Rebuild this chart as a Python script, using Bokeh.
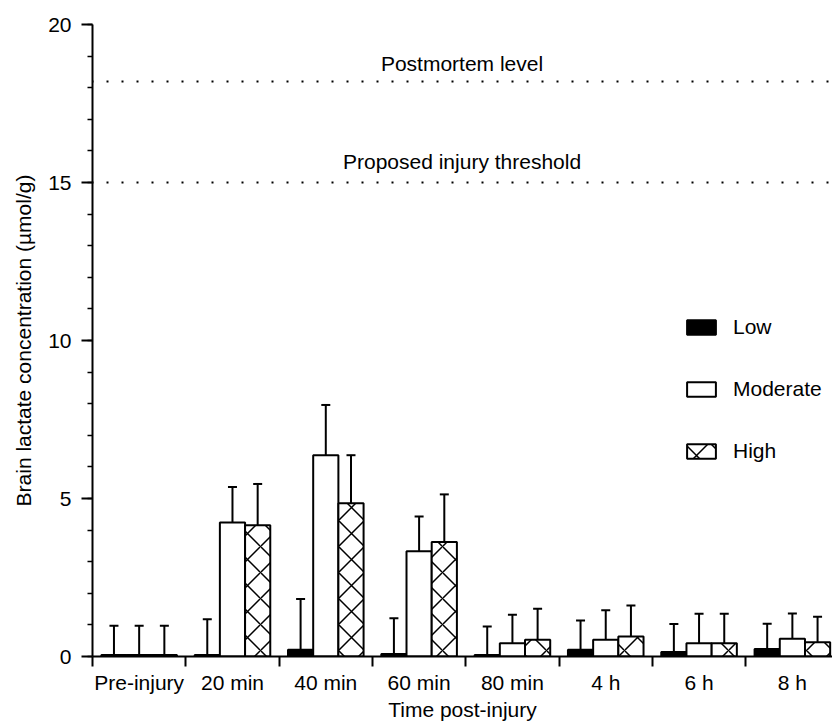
import numpy as np
from bokeh.plotting import figure
from bokeh.models import (ColumnDataSource, Range1d, FixedTicker, SingleIntervalTicker,
                          Whisker, TeeHead, Span, Label, Legend, LegendItem)
from bokeh.transform import dodge
from bokeh.embed import file_html
from bokeh.resources import INLINE

# ---------------- data ----------------
categories = ["Pre-injury", "20 min", "40 min", "60 min", "80 min", "4 h", "6 h", "8 h"]
low = [0.05, 0.05, 0.21, 0.08, 0.05, 0.21, 0.14, 0.24]
low_err = [0.92, 1.13, 1.61, 1.13, 0.90, 0.93, 0.89, 0.80]
moderate = [0.05, 4.24, 6.37, 3.33, 0.42, 0.53, 0.42, 0.56]
moderate_err = [0.92, 1.12, 1.59, 1.10, 0.90, 0.93, 0.93, 0.80]
high = [0.05, 4.15, 4.85, 3.62, 0.53, 0.63, 0.42, 0.45]
high_err = [0.92, 1.31, 1.52, 1.51, 0.98, 0.98, 0.93, 0.81]
series_names = ["Low", "Moderate", "High"]
reference_levels = [18.2, 15.0]
reference_labels = ["Postmortem level", "Proposed injury threshold"]
y_ticks_major = 5

FONT = "Liberation Sans"
FS = "21px"

x_centers = np.arange(len(categories)) + 0.5
src = ColumnDataSource(dict(
    x=x_centers,
    low=low, low_top=np.array(low) + np.array(low_err),
    moderate=moderate, moderate_top=np.array(moderate) + np.array(moderate_err),
    high=high, high_top=np.array(high) + np.array(high_err),
))

p = figure(width=832, height=723,
           x_range=Range1d(0, 7.93), y_range=Range1d(0, 20),
           output_backend="svg", toolbar_location=None,
           min_border_left=92, min_border_top=24, min_border_bottom=67, min_border_right=0)
p.outline_line_color = None
p.grid.visible = False
p.background_fill_color = "white"
p.border_fill_color = "white"

bw = 0.27
offsets = [-bw, 0.0, bw]
styles = [
    dict(fill_color="black", line_color="black"),
    dict(fill_color="white", line_color="black"),
    dict(fill_color="white", line_color="black", hatch_pattern="diagonal_cross",
         hatch_scale=26, hatch_weight=1.5, hatch_color="black"),
]
fields = ["low", "moderate", "high"]
renderers = []
for f, off, st in zip(fields, offsets, styles):
    r = p.vbar(x=dodge("x", off), top=f, width=bw, bottom=0, source=src,
               line_width=2, **st)
    renderers.append(r)
for f, off in zip(fields, offsets):
    w = Whisker(base=dodge("x", off), lower=f, upper=f + "_top", source=src,
                dimension="height", line_width=2, line_color="black",
                upper_head=TeeHead(size=9, line_width=2, line_color="black"),
                lower_head=None)
    p.add_layout(w)

# reference levels
label_offsets = [18, 21]
for lev, txt, yo in zip(reference_levels, reference_labels, label_offsets):
    p.add_layout(Span(location=lev, dimension="width", line_color="black",
                      line_width=2, line_dash="2 13", line_dash_offset=1))
    p.add_layout(Label(x=3.96, y=lev, y_offset=yo, text=txt, text_align="center",
                       text_baseline="middle", text_font=FONT, text_font_size=FS,
                       text_color="black"))

# axes
xa = p.xaxis[0]
xa.ticker = FixedTicker(ticks=list(x_centers), minor_ticks=list(range(len(categories) + 1)))
xa.major_label_overrides = {float(x): c for x, c in zip(x_centers, categories)}
xa.major_tick_line_color = None
xa.major_tick_out = 10
xa.major_tick_in = 0
xa.minor_tick_out = 10
xa.minor_tick_in = 0
xa.minor_tick_line_width = 2
xa.minor_tick_line_color = "black"
xa.major_label_standoff = 4
xa.axis_label = "Time post-injury"
xa.axis_label_standoff = 1

ya = p.yaxis[0]
ya.ticker = SingleIntervalTicker(interval=y_ticks_major, num_minor_ticks=5)
ya.major_tick_out = 11
ya.major_tick_in = 0
ya.minor_tick_out = 5
ya.minor_tick_in = 0
ya.major_tick_line_width = 2
ya.minor_tick_line_width = 1.5
ya.major_label_standoff = 10
ya.axis_label = "Brain lactate concentration (µmol/g)"
ya.axis_label_standoff = 10

for ax in (xa, ya):
    ax.axis_line_width = 2
    ax.axis_line_color = "black"
    ax.major_label_text_font = FONT
    ax.major_label_text_font_size = FS
    ax.major_label_text_color = "black"
    ax.axis_label_text_font = FONT
    ax.axis_label_text_font_size = FS
    ax.axis_label_text_font_style = "normal"
    ax.axis_label_text_color = "black"

legend = Legend(items=[LegendItem(label=n, renderers=[r]) for n, r in zip(series_names, renderers)],
                location=(591, 193), orientation="vertical",
                glyph_width=36, glyph_height=18, label_height=18,
                label_standoff=14, spacing=38, padding=0, margin=0,
                border_line_color=None, background_fill_alpha=0,
                label_text_font=FONT, label_text_font_size=FS, label_text_color="black")
p.add_layout(legend)

open("out.html", "w").write(file_html(p, INLINE))
